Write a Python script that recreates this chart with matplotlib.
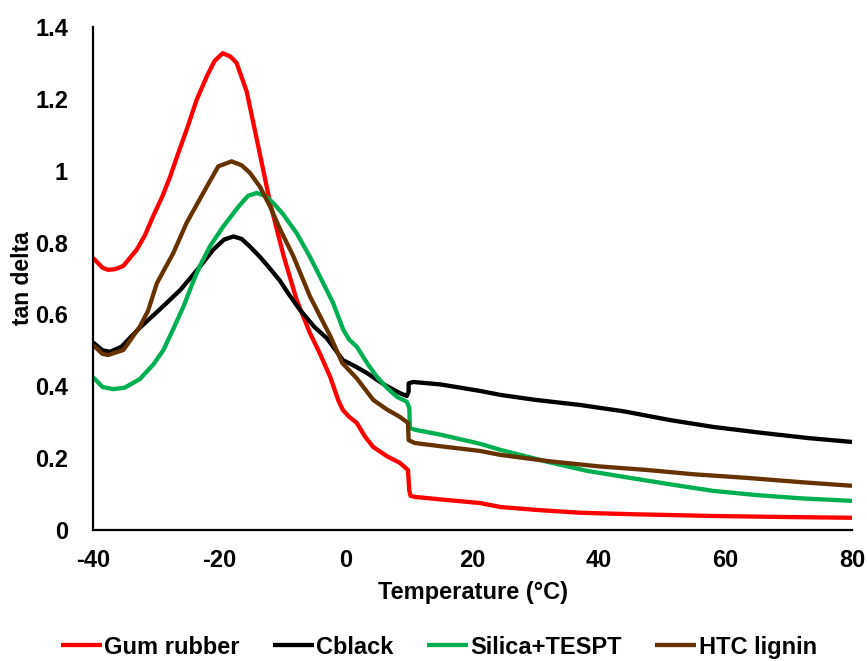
import matplotlib
matplotlib.use("Agg")
import matplotlib.pyplot as plt

plt.rcParams['font.family'] = ['Liberation Sans', 'DejaVu Sans']
plt.rcParams['font.weight'] = 'bold'

# Temperature sweep (°C) and tan delta for each compound
gum_x = [-40, -38.5, -37.6, -36.5, -35.2, -33.1, -31.8, -30.5, -29, -27.8, -26.5, -25.2,
         -23.6, -22, -20.8, -19.5, -18.3, -17.3, -15.7, -13.9, -12.0, -9.9, -7.8, -5.7,
         -4.1, -2.5, -1.2, -0.5, 0.5, 1.7, 3.0, 4.3, 6.5, 8.5, 9.8, 10.0, 10.2, 10.9, 15,
         21.2, 24.4, 30, 37, 45, 58, 70, 80]
gum_y = [0.757, 0.73, 0.724, 0.726, 0.735, 0.78, 0.82, 0.873, 0.93, 0.984, 1.05, 1.114,
         1.198, 1.263, 1.305, 1.327, 1.318, 1.30, 1.22, 1.07, 0.91, 0.765, 0.64, 0.548,
         0.49, 0.426, 0.36, 0.334, 0.315, 0.298, 0.26, 0.231, 0.205, 0.187, 0.167, 0.11,
         0.095, 0.092, 0.085, 0.075, 0.064, 0.056, 0.048, 0.044, 0.039, 0.036, 0.034]

cb_x = [-40, -38.5, -37.3, -35.5, -32.6, -29.5, -26.2, -23.1, -21, -19.3, -17.8, -16.5,
        -15.2, -13.6, -12, -10.5, -9, -7.3, -5, -3.05, -0.5, 1.5, 3.3, 6, 8.5, 9.6, 9.9,
        9.9, 10.6, 15, 21.2, 24.4, 30, 37, 44, 51.2, 58, 65.9, 73, 80]
cb_y = [0.522, 0.50, 0.496, 0.51, 0.563, 0.613, 0.668, 0.733, 0.78, 0.808, 0.817, 0.81,
        0.789, 0.76, 0.727, 0.695, 0.655, 0.613, 0.565, 0.534, 0.473, 0.455, 0.437, 0.405,
        0.381, 0.373, 0.385, 0.408, 0.412, 0.405, 0.387, 0.376, 0.362, 0.348, 0.33, 0.306,
        0.287, 0.27, 0.256, 0.245]

si_x = [-40, -38.5, -36.8, -35, -32.6, -30.5, -28.9, -27.3, -25.7, -24.2, -23.1, -21.5,
        -19.4, -17, -15.5, -14.1, -12.8, -11.5, -10, -7.8, -5.7, -3.6, -2.0, -0.43, 0.5,
        1.7, 3.5, 4.9, 6.5, 8.1, 9.6, 10.0, 10.1, 10.9, 15, 21.2, 24.4, 31.8, 38, 44.9,
        52, 58, 65, 72, 80]
si_y = [0.425, 0.398, 0.392, 0.396, 0.42, 0.46, 0.50, 0.56, 0.622, 0.69, 0.735, 0.79,
        0.845, 0.90, 0.93, 0.938, 0.93, 0.91, 0.88, 0.826, 0.76, 0.687, 0.63, 0.557, 0.53,
        0.51, 0.46, 0.426, 0.395, 0.37, 0.357, 0.34, 0.284, 0.279, 0.265, 0.24, 0.223,
        0.19, 0.165, 0.145, 0.125, 0.109, 0.097, 0.088, 0.081]

htc_x = [-40, -38.5, -37.6, -35.2, -32.6, -31.3, -29.9, -27.3, -25.2, -22, -20.2, -18.1,
         -16.5, -15.2, -13.6, -12, -10.4, -8.3, -5.7, -2.5, -0.6, 1.7, 4.3, 6.5, 8.5, 9.8,
         9.9, 10.9, 15, 21.2, 24.4, 31.8, 40, 47.6, 55, 63.4, 72, 80]
htc_y = [0.515, 0.49, 0.487, 0.501, 0.566, 0.61, 0.687, 0.771, 0.855, 0.956, 1.012, 1.026,
         1.015, 0.994, 0.955, 0.90, 0.836, 0.761, 0.65, 0.54, 0.465, 0.422, 0.362, 0.335,
         0.315, 0.298, 0.25, 0.242, 0.233, 0.22, 0.209, 0.192, 0.177, 0.167, 0.155, 0.145,
         0.133, 0.123]

series = [
    ("Gum rubber", gum_x, gum_y, "#FF0000"),
    ("Cblack", cb_x, cb_y, "#000000"),
    ("Silica+TESPT", si_x, si_y, "#00B050"),
    ("HTC lignin", htc_x, htc_y, "#663300"),
]

x_ticks = [-40, -20, 0, 20, 40, 60, 80]
y_ticks = [0, 0.2, 0.4, 0.6, 0.8, 1, 1.2, 1.4]
y_tick_labels = ["0", "0.2", "0.4", "0.6", "0.8", "1", "1.2", "1.4"]

fig = plt.figure(figsize=(8.67, 6.61), dpi=100)
ax = fig.add_axes([0.1073, 0.1982, 0.8754, 0.7610])

for name, xs, ys, color in series:
    ax.plot(xs, ys, color=color, lw=3.1, label=name, solid_joinstyle='round',
            solid_capstyle='butt')

ax.set_xlim(-40, 80)
ax.set_ylim(0, 1.4)
ax.set_xticks(x_ticks)
ax.set_xticklabels([str(t) for t in x_ticks])
ax.set_yticks(y_ticks)
ax.set_yticklabels(y_tick_labels)
ax.tick_params(axis='both', length=0, labelsize=17)
ax.tick_params(axis='x', pad=14)
ax.tick_params(axis='y', pad=18)

for side in ("top", "right"):
    ax.spines[side].set_visible(False)
for side in ("left", "bottom"):
    ax.spines[side].set_linewidth(1.6)
    ax.spines[side].set_color("black")

ax.set_xlabel("Temperature (°C)", fontsize=17, fontweight='bold', labelpad=6)
ax.set_ylabel("tan delta", fontsize=16.5, fontweight='bold', labelpad=1)

fig.legend(loc='center', bbox_to_anchor=(0.506, 0.021), ncol=4, frameon=False,
           fontsize=17, handlelength=1.75, handletextpad=0.1, columnspacing=1.4)

fig.savefig("out.png", dpi=100)
